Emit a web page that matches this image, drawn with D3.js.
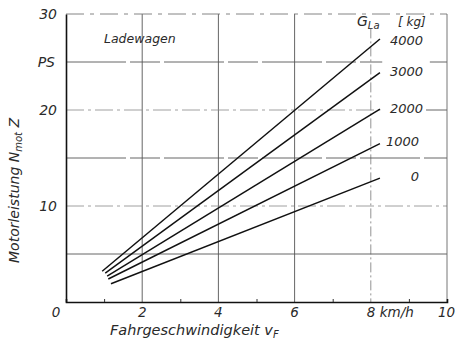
<!DOCTYPE html>
<html>
<head>
<meta charset="utf-8">
<script src="https://cdn.jsdelivr.net/npm/d3@7"></script>
<style>
  html, body { margin: 0; padding: 0; background: #fff; }
  svg { display: block; }
  text { font-family: "DejaVu Sans", "Liberation Sans", sans-serif; font-style: italic; fill: #2a2a2a; }
</style>
</head>
<body>
<svg id="chart" width="455" height="343"></svg>
<script>
// Motor power demand of a loader wagon vs. travel speed, one line per payload
const loads = [4000, 3000, 2000, 1000, 0];          // G_La [kg]
const vStart = [0.95, 1.03, 1.08, 1.11, 1.18];      // km/h
const nStart = [3.2, 3.0, 2.7, 2.4, 1.9];           // PS
const vEnd = [8.24, 8.24, 8.24, 8.24, 8.24];        // km/h
const nEnd = [27.4, 23.9, 20.1, 16.5, 12.9];        // PS

const xTicks = [0, 2, 4, 6, 8, 10];
const xTickLabels = ["0", "2", "4", "6", "8  km/h", "10"];
const xMinor = [1, 3, 5, 7, 9];
const yTicks = [10, 20, 30];
const yUnitAt = 25;

const svg = d3.select("#chart");
const x = d3.scaleLinear().domain([0, 10]).range([66, 447]);
const y = d3.scaleLinear().domain([0, 30]).range([302, 14]);

const grid = svg.append("g").attr("stroke", "#555").attr("fill", "none");

// vertical grid lines
[2, 4, 6].forEach(v => grid.append("line")
  .attr("x1", x(v)).attr("x2", x(v)).attr("y1", y(30)).attr("y2", y(0))
  .attr("stroke-width", 0.9));
grid.append("line")
  .attr("x1", x(8)).attr("x2", x(8)).attr("y1", y(28.5)).attr("y2", y(0))
  .attr("stroke-width", 0.8).attr("stroke", "#777").attr("stroke-dasharray", "10,3,2,3");

// horizontal grid lines, broken where the payload labels sit
[5, 15, 25].forEach(n => {
  grid.append("line").attr("x1", x(0)).attr("x2", x(n === 25 ? 8.3 : 10))
    .attr("y1", y(n)).attr("y2", y(n)).attr("stroke-width", 0.9)
    .attr("stroke-dasharray", n === 5 ? null : "60,4,30,4");
  if (n === 25) grid.append("line").attr("x1", x(9.55)).attr("x2", x(10))
    .attr("y1", y(n)).attr("y2", y(n)).attr("stroke-width", 0.9);
});
[10, 20].forEach(n => {
  grid.append("line").attr("x1", x(0)).attr("x2", x(n === 20 ? 8.25 : 10))
    .attr("y1", y(n)).attr("y2", y(n)).attr("stroke-width", 0.8)
    .attr("stroke-dasharray", "18,4,3,4").attr("stroke", "#888");
  if (n === 20) grid.append("line").attr("x1", x(9.45)).attr("x2", x(10))
    .attr("y1", y(n)).attr("y2", y(n)).attr("stroke-width", 0.9);
});

// frame
grid.append("line").attr("x1", x(0)).attr("x2", x(10)).attr("y1", y(30)).attr("y2", y(30))
  .attr("stroke-width", 0.9).attr("stroke-dasharray", "18,6,4,6").attr("stroke", "#777");
grid.append("line").attr("x1", x(10)).attr("x2", x(10)).attr("y1", y(30)).attr("y2", y(0))
  .attr("stroke-width", 0.9).attr("stroke", "#666");

// axes
const xAxis = d3.axisBottom(x).tickValues(xMinor).tickSize(-3).tickFormat("");
const gx = svg.append("g").attr("transform", `translate(0,${y(0)})`).call(xAxis);
gx.select(".domain").attr("stroke", "#111").attr("stroke-width", 1.6);
gx.selectAll(".tick line").attr("stroke", "#333");

const gy = svg.append("g").attr("transform", `translate(${x(0)},0)`)
  .call(d3.axisLeft(y).tickValues([]).tickSize(0));
gy.select(".domain").attr("stroke", "#111").attr("stroke-width", 1.6);

// tick labels
svg.append("g").selectAll("text").data(xTicks).join("text")
  .attr("x", d => d === 8 ? x(d) - 4 : x(d) - (d === 0 ? 10 : 0))
  .attr("y", 317)
  .attr("text-anchor", d => d === 8 ? "start" : (d === 10 ? "start" : "middle"))
  .attr("dx", d => d === 10 ? -9 : 0)
  .attr("font-size", 13.5)
  .text((d, i) => xTickLabels[i]);

svg.append("g").selectAll("text").data(yTicks).join("text")
  .attr("x", 57).attr("y", d => y(d) + 5)
  .attr("text-anchor", "end").attr("font-size", 14)
  .text(d => d);
svg.append("text").attr("x", 55).attr("y", y(yUnitAt) + 5)
  .attr("text-anchor", "end").attr("font-size", 14).text("PS");

// axis titles
const xt = svg.append("text").attr("x", 110).attr("y", 335)
  .attr("text-anchor", "start").attr("font-size", 14.5);
xt.append("tspan").text("Fahrgeschwindigkeit  v");
xt.append("tspan").attr("font-size", 10).attr("dy", 3).text("F");

const yt = svg.append("text")
  .attr("transform", "translate(19,263) rotate(-90)")
  .attr("text-anchor", "start").attr("font-size", 14);
yt.append("tspan").text("Motorleistung  N");
yt.append("tspan").attr("font-size", 10).attr("dy", 3).text("mot");
yt.append("tspan").attr("dy", -3).text("  Z");

svg.append("text").attr("x", 104).attr("y", 43).attr("font-size", 12.5).text("Ladewagen");

// load curves
const line = d3.line().x(d => x(d[0])).y(d => y(d[1]));
svg.append("g").selectAll("path").data(loads).join("path")
  .attr("d", (d, i) => line([[vStart[i], nStart[i]], [vEnd[i], nEnd[i]]]))
  .attr("fill", "none").attr("stroke", "#111").attr("stroke-width", 1.5);

// payload labels
const labelDy = [1, -2, -1, -3, -2];
svg.append("g").selectAll("text").data(loads).join("text")
  .attr("x", d => d >= 2000 ? 423 : 419)
  .attr("y", (d, i) => y(nEnd[i]) + 5 + labelDy[i])
  .attr("text-anchor", "end").attr("font-size", 13)
  .text(d => String(d));

const gl = svg.append("text").attr("x", 357).attr("y", 26).attr("font-size", 14);
gl.append("tspan").text("G");
gl.append("tspan").attr("font-size", 10).attr("dy", 3).text("La");
svg.append("text").attr("x", 398).attr("y", 26).attr("font-size", 12).text("[ kg]");
</script>
</body>
</html>
